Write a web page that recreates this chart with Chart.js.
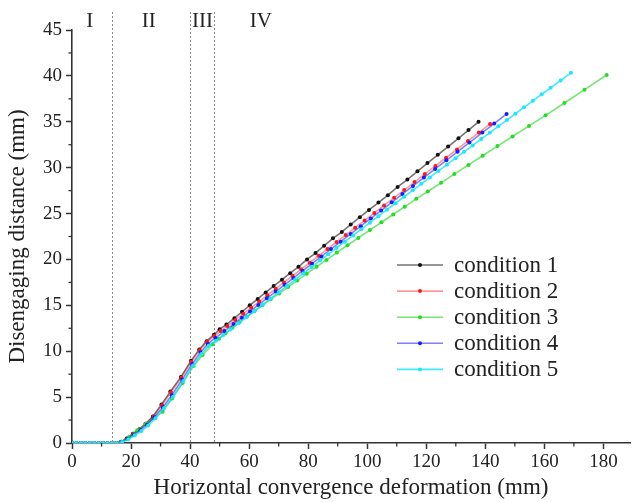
<!DOCTYPE html>
<html>
<head>
<meta charset="utf-8">
<script src="https://cdn.jsdelivr.net/npm/chart.js@4.4.0/dist/chart.umd.min.js"></script>
<style>
  body { margin: 0; background: #fff; }
  canvas { display: block; }
</style>
</head>
<body>
<canvas id="myChart" width="634" height="502"></canvas>
<script>
const ctx = document.getElementById('myChart').getContext('2d')

const seriesNames = ['condition 1', 'condition 2', 'condition 3', 'condition 4', 'condition 5']

const startX = [0, 1.5, 3, 4.5, 6, 7.5, 9, 10.5, 12, 13.5, 15]
const startY = [0, 0, 0, 0, 0, 0, 0, 0, 0, 0, 0]

const x1 = [...startX, 16.5, 18.5, 20.6, 22.9, 24.9, 27.4, 30.3, 33.3, 36.9, 40.3, 43.1, 45.6, 48.1, 50, 52.3,
    55, 57.6, 60.2, 62.9, 65.6, 68.3, 71.1, 73.9, 76.7, 79.6, 82.5, 85.4, 88.4, 91.4, 94.4, 97.5, 100.6, 103.8,
    107, 110.3, 113.6, 117, 120.4, 123.9, 127.4, 130.9, 134.3, 137.7]
const y1 = [...startY, 0.1, 0.5, 1.0, 1.5, 2.1, 2.9, 4.2, 5.6, 7.2, 8.95, 10.2, 11.1, 11.8, 12.4, 12.9,
    13.6, 14.3, 15.0, 15.7, 16.4, 17.1, 17.8, 18.5, 19.2, 20.0, 20.7, 21.5, 22.3, 23.0, 23.8, 24.6, 25.4, 26.2,
    27.0, 27.9, 28.7, 29.6, 30.5, 31.4, 32.3, 33.2, 34.1, 35.0]

const x2 = [...startX, 16.6, 18.7, 20.8, 23.0, 25.1, 27.6, 30.5, 33.5, 37.0, 40.4, 43.2, 45.7, 48.2, 50.3, 52.6,
    55.3, 58.0, 60.7, 63.4, 66.2, 69.0, 71.8, 74.7, 77.6, 80.5, 83.5, 86.5, 89.6, 92.7, 95.9, 99.1, 102.4, 105.7,
    109.1, 112.5, 116.0, 119.5, 123.1, 126.7, 130.4, 134.1, 137.8, 141.6]
const y2 = [...startY, 0.1, 0.5, 1.0, 1.5, 2.1, 2.9, 4.1, 5.5, 7.1, 8.85, 10.1, 11.0, 11.65, 12.2, 12.74,
    13.41, 14.08, 14.74, 15.41, 16.11, 16.80, 17.49, 18.21, 18.93, 19.64, 20.39, 21.13, 21.90, 22.66, 23.46, 24.25, 25.06, 25.88,
    26.72, 27.56, 28.43, 29.30, 30.19, 31.08, 31.99, 32.91, 33.83, 34.77]

const x3 = [...startX, 16.8, 19.3, 22.1, 25.0, 27.8, 30.7, 33.9, 37.5, 41.2, 44.2, 47.6,
    49.8, 52.0, 54.3, 56.7, 59.2, 61.8, 64.5, 67.3, 70.2, 73.2, 76.3, 79.5, 82.8, 86.2, 89.7, 93.3, 97.0,
    100.9, 104.8, 108.8, 112.7, 116.6, 120.5, 125.0, 129.5, 134.3, 139.1, 144.1, 149.2, 154.8, 160.4, 166.8, 173.6, 181.1]
const y3 = [...startY, 0.15, 0.65, 1.4, 2.1, 2.7, 3.4, 4.85, 6.55, 8.4, 9.6, 10.75,
    11.35, 11.95, 12.55, 13.15, 13.75, 14.35, 15.0, 15.65, 16.3, 17.0, 17.7, 18.45, 19.2, 19.95, 20.75, 21.55, 22.35,
    23.2, 24.05, 24.9, 25.75, 26.6, 27.4, 28.35, 29.3, 30.3, 31.3, 32.35, 33.4, 34.55, 35.7, 37.05, 38.5, 40.1]

const x4 = [...startX, 16.8, 18.9, 21.0, 23.2, 25.4, 27.9, 30.8, 33.8, 37.3, 40.7, 43.5, 46.0, 48.6, 51.6,
    54.7, 57.5, 60.3, 63.1, 66.0, 69.0, 72.0, 75.0, 78.1, 81.3, 84.5, 87.7, 91.0, 94.4, 97.8, 101.2, 104.7,
    108.3, 111.9, 115.5, 119.2, 123.0, 126.8, 130.6, 134.6, 139.0, 143.0, 147.2]
const y4 = [...startY, 0.1, 0.45, 0.9, 1.4, 2.0, 2.8, 3.9, 5.2, 6.9, 8.6, 9.85, 10.8, 11.45, 12.19,
    12.96, 13.65, 14.34, 15.04, 15.76, 16.50, 17.24, 17.98, 18.75, 19.54, 20.33, 21.13, 21.94, 22.78, 23.63, 24.47, 25.33,
    26.22, 27.12, 28.01, 28.92, 29.86, 30.80, 31.74, 32.73, 33.82, 34.81, 35.85]

const x5 = [...startX, 17.0, 19.1, 21.3, 23.5, 25.8, 28.3, 31.2, 34.2, 37.7, 41.0, 43.8, 46.3, 48.8, 51.2,
    53.7, 56.4, 59.1, 61.8, 64.5, 67.2, 70.0, 72.8, 75.6, 78.4, 81.2, 84.0, 86.8, 89.6, 92.4, 95.2, 98.0,
    100.9, 103.8, 106.7, 109.6, 112.5, 115.4, 118.3, 121.2, 124.1, 127.0, 129.9, 132.8, 135.7, 138.6, 141.5,
    144.4, 147.3, 150.2, 153.1, 156.1, 159.1, 162.1, 165.5, 169.0]
const y5 = [...startY, 0.1, 0.4, 0.85, 1.3, 1.9, 2.7, 3.8, 5.05, 6.75, 8.45, 9.7, 10.6, 11.15, 11.75,
    12.37, 13.05, 13.72, 14.39, 15.06, 15.73, 16.42, 17.12, 17.81, 18.50, 19.19, 19.88, 20.56, 21.25, 21.94, 22.62, 23.30,
    24.01, 24.72, 25.42, 26.13, 26.83, 27.53, 28.24, 28.94, 29.64, 30.33, 31.03, 31.73, 32.42, 33.12, 33.81,
    34.50, 35.19, 35.88, 36.57, 37.28, 37.99, 38.70, 39.51, 40.33]

const xs = [x1, x2, x3, x4, x5]
const ys = [y1, y2, y3, y4, y5]

const xTicks = [0, 20, 40, 60, 80, 100, 120, 140, 160, 180]
const xMinor = [10, 30, 50, 70, 90, 110, 130, 150, 170]
const yTicks = [0, 5, 10, 15, 20, 25, 30, 35, 40, 45]
const yMinor = [2.5, 7.5, 12.5, 17.5, 22.5, 27.5, 32.5, 37.5, 42.5]

// stage boundaries and labels
const stageBounds = [13.5, 40, 48]
const stageLabels = ['I', 'II', 'III', 'IV']
const stageLabelX = [6, 26, 44.2, 64]

const dotColors = ['#111111', '#ff1a1a', '#22dd22', '#1a1aff', '#1ee6ff']
const lineColors = ['rgba(0,0,0,0.55)', 'rgba(255,0,0,0.4)', 'rgba(0,210,0,0.55)', 'rgba(0,0,255,0.5)', 'rgba(0,225,255,0.75)']

const serif = 'Liberation Serif'
const textColor = '#222'
const axisColor = '#333'

const decor = {
    id: 'decor',
    beforeDatasetsDraw(chart) {
        const c = chart.ctx
        const area = chart.chartArea
        const sx = chart.scales.x
        c.save()
        c.strokeStyle = '#8a8a8a'
        c.lineWidth = 1
        c.setLineDash([2, 2])
        stageBounds.forEach((v) => {
            const px = Math.round(sx.getPixelForValue(v)) + 0.5
            c.beginPath()
            c.moveTo(px, 12)
            c.lineTo(px, area.bottom)
            c.stroke()
        })
        c.restore()
    },
    afterDraw(chart) {
        const c = chart.ctx
        const area = chart.chartArea
        const sx = chart.scales.x
        const sy = chart.scales.y
        c.save()
        // minor ticks
        c.strokeStyle = axisColor
        c.lineWidth = 1.3
        xMinor.forEach((v) => {
            const px = sx.getPixelForValue(v)
            c.beginPath()
            c.moveTo(px, area.bottom)
            c.lineTo(px, area.bottom + 3.5)
            c.stroke()
        })
        yMinor.forEach((v) => {
            const py = sy.getPixelForValue(v)
            c.beginPath()
            c.moveTo(area.left, py)
            c.lineTo(area.left - 3.5, py)
            c.stroke()
        })
        // stage labels
        c.fillStyle = textColor
        c.font = '21px "' + serif + '"'
        c.textAlign = 'center'
        c.textBaseline = 'middle'
        stageLabels.forEach((t, i) => {
            c.fillText(t, sx.getPixelForValue(stageLabelX[i]), 21)
        })
        // legend
        c.font = '23px "' + serif + '"'
        c.textAlign = 'left'
        seriesNames.forEach((name, i) => {
            const y = 265 + i * 26.1
            c.strokeStyle = lineColors[i]
            c.lineWidth = 1.6
            c.beginPath()
            c.moveTo(397, y)
            c.lineTo(443, y)
            c.stroke()
            c.fillStyle = dotColors[i]
            c.beginPath()
            c.arc(420, y, 2, 0, Math.PI * 2)
            c.fill()
            c.fillStyle = textColor
            c.fillText(name, 454, y + 1)
        })
        c.restore()
    }
}

// condition 5 (cyan) ends up on top, as in the picture
const datasets = seriesNames.map((name, i) => ({
    label: name,
    data: xs[i].map((x, j) => ({ x: x, y: ys[i][j] })),
    borderColor: lineColors[i],
    backgroundColor: dotColors[i],
    borderWidth: 1.6,
    pointRadius: 2,
    pointBorderWidth: 0,
    pointBackgroundColor: dotColors[i],
    tension: 0,
    order: 5 - i,
}))

const config = {
    type: 'line',
    data: { datasets },
    options: {
        responsive: false,
        animation: false,
        devicePixelRatio: 1,
        layout: { padding: { top: 30, right: 0, left: 0, bottom: 0 } },
        plugins: {
            legend: { display: false },
            tooltip: { enabled: false },
        },
        scales: {
            x: {
                type: 'linear',
                min: 0,
                max: 189,
                afterBuildTicks: (s) => { s.ticks = xTicks.map((v) => ({ value: v })) },
                afterFit: (s) => { s.height = 59 },
                ticks: {
                    autoSkip: false,
                    maxRotation: 0,
                    padding: 2,
                    color: textColor,
                    font: { family: serif, size: 19 },
                },
                grid: {
                    drawOnChartArea: false,
                    tickLength: 6,
                    tickColor: axisColor,
                    tickWidth: 1.5,
                },
                border: { color: axisColor, width: 1.6 },
                title: {
                    display: true,
                    text: 'Horizontal convergence deformation (mm)',
                    color: textColor,
                    font: { family: serif, size: 23 },
                    padding: { top: 0, bottom: 0 },
                },
            },
            y: {
                type: 'linear',
                min: 0,
                max: 45,
                afterBuildTicks: (s) => { s.ticks = yTicks.map((v) => ({ value: v })) },
                afterFit: (s) => { s.width = 72 },
                ticks: {
                    autoSkip: false,
                    padding: 4,
                    color: textColor,
                    font: { family: serif, size: 19 },
                },
                grid: {
                    drawOnChartArea: false,
                    tickLength: 6,
                    tickColor: axisColor,
                    tickWidth: 1.5,
                },
                border: { color: axisColor, width: 1.6 },
                title: {
                    display: true,
                    text: 'Disengaging distance (mm)',
                    color: textColor,
                    font: { family: serif, size: 23 },
                    padding: { top: 4, bottom: 0 },
                },
            },
        },
    },
    plugins: [decor],
}

const myChart = new Chart(ctx, config)
</script>
</body>
</html>
